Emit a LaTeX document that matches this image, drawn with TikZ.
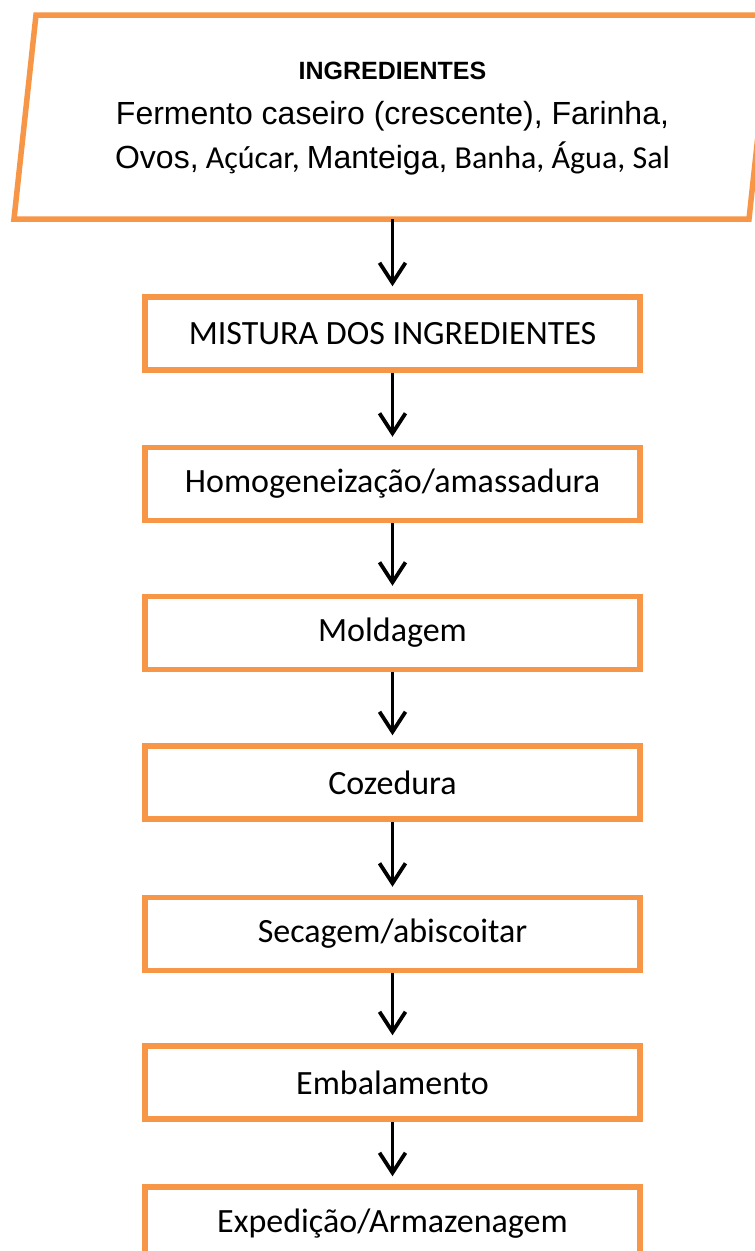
\documentclass[tikz,border=0pt]{standalone}
\usepackage{fontspec}
\setmainfont{Carlito}
\newfontfamily\arial{Liberation Sans}
\usetikzlibrary{arrows.meta}
\definecolor{orng}{HTML}{F79646}
\tikzset{
  stepbox/.style={draw=orng, line width=5.5pt, minimum width=495pt, minimum height=73pt, inner sep=0pt, font=\fontsize{34}{40}\selectfont},
  flow/.style={line width=3.8pt, -{Straight Barb[length=20pt,width=26pt,line width=3.8pt]}, shorten >=8pt},
}
\begin{document}
\begin{tikzpicture}[x=1pt,y=-1pt]
\useasboundingbox (0,0) rectangle (755,1251);
\clip (0,0) rectangle (755,1251);
\fill[white] (0,0) rectangle (755,1251);
% parallelogram
\coordinate (p1) at (36,15);
\coordinate (p2) at (771,15);
\coordinate (p3) at (749,219);
\coordinate (p4) at (14,219);
\draw[orng, line width=5.5pt] (p1) -- (p2) -- (p3) -- (p4) -- cycle;
\coordinate (pb) at (392.5,219);
\node[anchor=base, font=\arial\bfseries\fontsize{25}{30}\selectfont] (t0) at (392.5,79) {INGREDIENTES};
\node[anchor=base, font=\arial\fontsize{32}{38}\selectfont] (t1) at (392.5,124) {Fermento caseiro (crescente), Farinha,};
\node[anchor=base, font=\fontsize{32}{38}\selectfont] (t2) at (392.5,168) {{\arial Ovos,} Açúcar, {\arial Manteiga,} Banha, Água, Sal};
% boxes
\node[stepbox] (b1) at (392.5,333.5) {MISTURA DOS INGREDIENTES};
\node[stepbox] (b2) at (392.5,484) {Homogeneização/amassadura};
\node[stepbox] (b3) at (392.5,633) {Moldagem};
\node[stepbox] (b4) at (392.5,782.5) {Cozedura};
\node[stepbox] (b5) at (392.5,934) {Secagem/abiscoitar};
\node[stepbox] (b6) at (392.5,1082.5) {Embalamento};
\node[stepbox] (b7) at (392.5,1223.5) {Expedição/Armazenagem};
% arrows
\draw[flow] (pb) -- (b1.north);
\draw[flow] (b1.south) -- (b2.north);
\draw[flow] (b2.south) -- (b3.north);
\draw[flow] (b3.south) -- (b4.north);
\draw[flow] (b4.south) -- (b5.north);
\draw[flow] (b5.south) -- (b6.north);
\draw[flow] (b6.south) -- (b7.north);
\end{tikzpicture}
\end{document}
